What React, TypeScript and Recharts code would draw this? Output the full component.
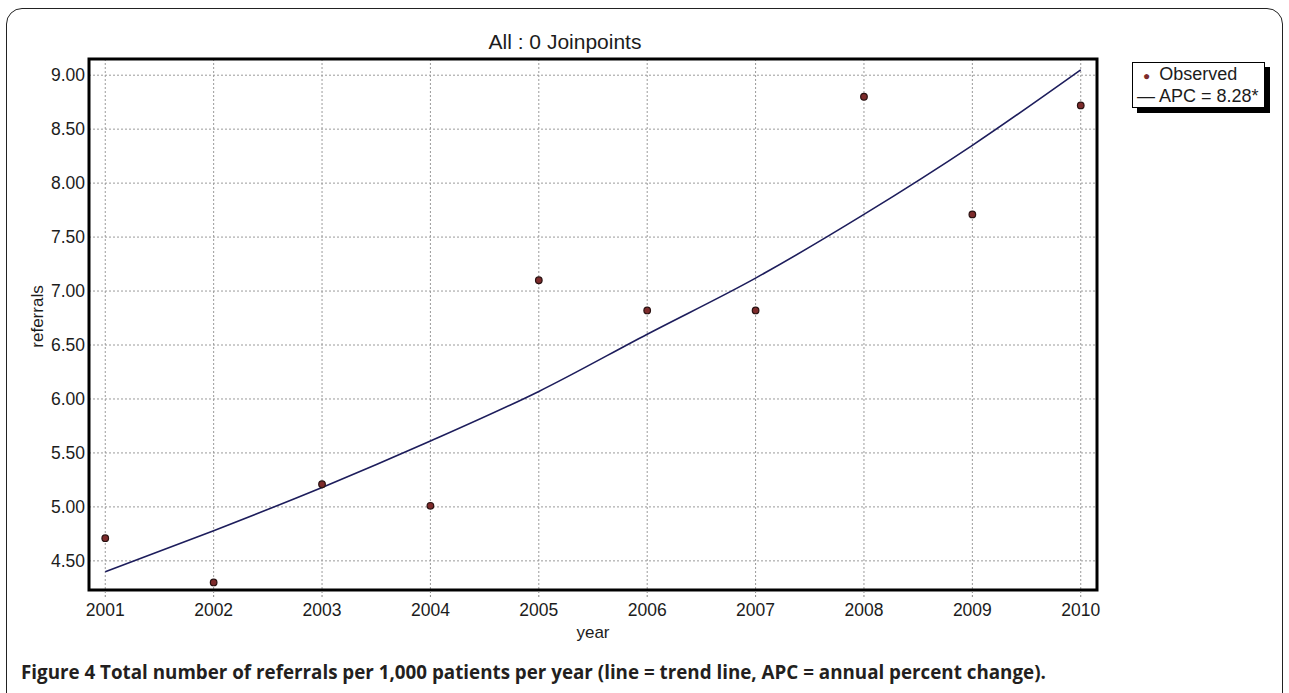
import {
  ComposedChart,
  Line,
  Scatter,
  XAxis,
  YAxis,
  CartesianGrid,
  ReferenceArea,
} from "recharts";

const years = [2001, 2002, 2003, 2004, 2005, 2006, 2007, 2008, 2009, 2010];
const observed = [4.71, 4.3, 5.21, 5.01, 7.1, 6.82, 6.82, 8.8, 7.71, 8.72];
const trend = [4.4, 4.78, 5.18, 5.61, 6.07, 6.6, 7.12, 7.71, 8.35, 9.05];
const yTicks = [4.5, 5.0, 5.5, 6.0, 6.5, 7.0, 7.5, 8.0, 8.5, 9.0];

const X_DOMAIN = [2000.85, 2010.15];
const Y_DOMAIN = [4.23, 9.15];

const data = years.map((year, i) => ({
  year,
  observed: observed[i],
  trend: trend[i],
}));

const FONT = "'Liberation Sans', Arial, sans-serif";
const INK = "#1c1c1c";

function Dot(props: any) {
  const { cx, cy } = props;
  return <circle cx={cx} cy={cy} r={3.3} fill="#7d2b2b" stroke="#2a1212" strokeWidth={1.2} />;
}

function YLabel(props: any) {
  const { viewBox } = props;
  const x = viewBox.x + 37;
  const y = viewBox.y + viewBox.height / 2 - 8;
  return (
    <text
      x={x}
      y={y}
      transform={`rotate(-90 ${x} ${y})`}
      textAnchor="middle"
      dominantBaseline="central"
      fontFamily={FONT}
      fontSize={17}
      fill={INK}
    >
      referrals
    </text>
  );
}

export default function App() {
  return (
    <div
      style={{
        position: "absolute",
        left: 0,
        top: 0,
        width: 1289,
        height: 693,
        overflow: "hidden",
        background: "#fff",
      }}
    >
      <div
        style={{
          position: "absolute",
          left: 6,
          top: 8,
          width: 1277,
          height: 740,
          border: "1.5px solid #222",
          borderRadius: 16,
          boxSizing: "border-box",
        }}
      />
      <div
        style={{
          position: "absolute",
          left: 0,
          width: 1130,
          textAlign: "center",
          top: 30,
          fontFamily: FONT,
          fontSize: 21,
          color: INK,
        }}
      >
        All : 0 Joinpoints
      </div>
      <div style={{ position: "absolute", left: 0, top: 0 }}>
        <ComposedChart
          width={1289}
          height={693}
          data={data}
          margin={{ top: 59, right: 192, left: 0, bottom: 53 }}
        >
          <CartesianGrid stroke="#9a9a9a" strokeDasharray="2 2" />
          <XAxis
            dataKey="year"
            type="number"
            domain={X_DOMAIN}
            ticks={years}
            height={50}
            axisLine={false}
            tickLine={{ stroke: "#888", strokeDasharray: "2 2" }}
            tickSize={7}
            tickMargin={7}
            tick={{ fontFamily: FONT, fontSize: 17.5, fill: INK }}
            label={{
              value: "year",
              position: "insideBottom",
              offset: 2,
              fontFamily: FONT,
              fontSize: 17,
              fill: INK,
            }}
          />
          <YAxis
            type="number"
            domain={Y_DOMAIN}
            ticks={yTicks}
            width={89}
            axisLine={false}
            tickLine={false}
            tickSize={3}
            tickMargin={1}
            tickFormatter={(v: number) => v.toFixed(2)}
            tick={{ fontFamily: FONT, fontSize: 17.5, fill: INK }}
            label={<YLabel />}
          />
          <Line
            dataKey="trend"
            type="monotone"
            stroke="#1d1d5c"
            strokeWidth={1.6}
            dot={false}
            isAnimationActive={false}
          />
          <Scatter dataKey="observed" shape={<Dot />} isAnimationActive={false} />
          <ReferenceArea
            x1={X_DOMAIN[0]}
            x2={X_DOMAIN[1]}
            y1={Y_DOMAIN[0]}
            y2={Y_DOMAIN[1]}
            fill="none"
            fillOpacity={0}
            stroke="#000"
            strokeWidth={3}
            strokeOpacity={1}
          />
        </ComposedChart>
      </div>
      <div
        style={{
          position: "absolute",
          left: 1132,
          top: 62,
          width: 133,
          height: 46,
          border: "1.5px solid #000",
          boxShadow: "5px 5px 0 #000",
          background: "#fff",
          boxSizing: "border-box",
          fontFamily: FONT,
          fontSize: 18,
          color: INK,
          lineHeight: "20px",
          padding: "1px 0 0 4px",
          whiteSpace: "nowrap",
        }}
      >
        <div>
          <span style={{ color: "#7d2b2b", fontSize: 12, margin: "0 9px 0 6px" }}>●</span>
          Observed
        </div>
        <div>— APC = 8.28*</div>
      </div>
      <div
        style={{
          position: "absolute",
          left: 21,
          top: 659,
          fontFamily: "'Open Sans', sans-serif",
          fontWeight: 700,
          fontSize: 18.8,
          color: "#231f20",
          whiteSpace: "nowrap",
        }}
      >
        Figure 4 Total number of referrals per 1,000 patients per year (line = trend line, APC = annual percent change).
      </div>
    </div>
  );
}
